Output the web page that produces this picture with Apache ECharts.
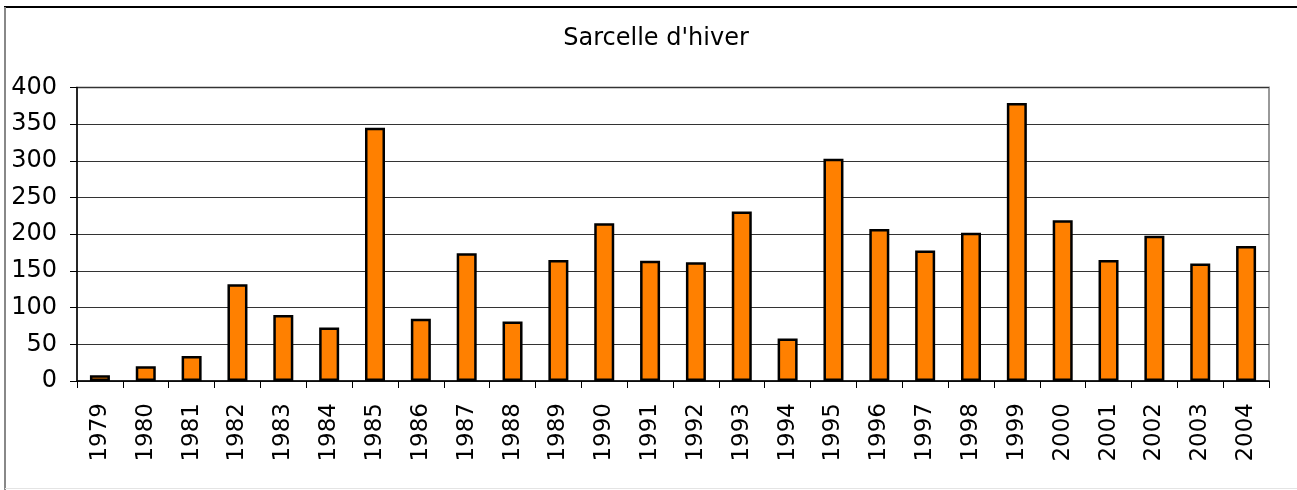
<!DOCTYPE html>
<html>
<head>
<meta charset="utf-8">
<script src="https://cdn.jsdelivr.net/npm/echarts@6/dist/echarts.min.js"></script>
<style>
html,body{margin:0;padding:0;background:#fff;}
#chart{width:1297px;height:490px;}
</style>
</head>
<body>
<div id="chart"></div>
<script>
const years = ['1979','1980','1981','1982','1983','1984','1985','1986','1987','1988','1989','1990','1991','1992','1993','1994','1995','1996','1997','1998','1999','2000','2001','2002','2003','2004'];
const counts = [8,20,34,132,90,73,345,85,174,81,165,215,164,162,231,58,303,207,178,202,379,219,165,198,160,184];
const yTicks = {min:0, max:400, interval:50};
const title = "Sarcelle d'hiver";

const chart = echarts.init(document.getElementById('chart'), null, {renderer:'canvas'});
const FONT = '"DejaVu Sans", Verdana, sans-serif';
chart.setOption({
  animation:false,
  backgroundColor:'#fff',
  title:{
    text:title, left:651, top:22, textAlign:'center',
    textStyle:{fontFamily:FONT, fontSize:24, fontWeight:'normal', color:'#000'}
  },
  graphic:[
    {type:'line', shape:{x1:4,y1:7,x2:1297,y2:7}, style:{stroke:'#000',lineWidth:2}},
    {type:'line', shape:{x1:5,y1:7,x2:5,y2:490}, style:{stroke:'#888',lineWidth:2}},
    {type:'line', shape:{x1:5,y1:488.5,x2:1297,y2:488.5}, style:{stroke:'#e4e4e4',lineWidth:1}}
  ],
  grid:{left:77, right:28, top:87.5, bottom:109, show:true, borderColor:'#999', borderWidth:2, backgroundColor:'#fff'},
  xAxis:{
    type:'category', data:years,
    axisLine:{lineStyle:{color:'#000',width:1.5}},
    axisTick:{show:true, length:7, lineStyle:{color:'#000'}},
    axisLabel:{rotate:90, margin:22, fontFamily:FONT, fontSize:23, color:'#000', interval:0}
  },
  yAxis:{
    type:'value', min:yTicks.min, max:yTicks.max, interval:yTicks.interval,
    axisLine:{show:true, lineStyle:{color:'#000',width:1.5}},
    axisTick:{show:true, length:7, lineStyle:{color:'#000'}},
    axisLabel:{margin:20, fontFamily:FONT, fontSize:24, color:'#000'},
    splitLine:{show:true, lineStyle:{color:'#333', width:1}}
  },
  series:[{
    type:'bar', data:counts, barWidth:20,
    itemStyle:{color:'#FF8000', borderColor:'#000', borderWidth:2.5}
  }]
});
</script>
</body>
</html>
